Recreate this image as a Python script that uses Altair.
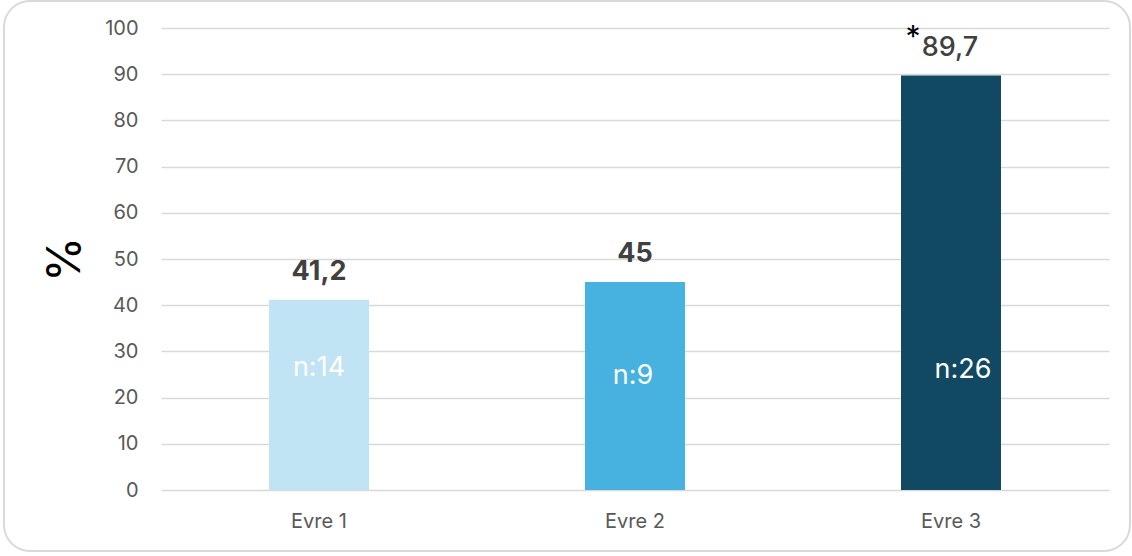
import altair as alt
import pandas as pd

# Stage results (%) with group sizes
stages = ["Evre 1", "Evre 2", "Evre 3"]
percent = [41.2, 45, 89.7]
n_counts = [14, 9, 26]
bar_colors = ["#C1E4F5", "#47B1E0", "#114862"]
y_ticks = list(range(0, 101, 10))

FONT = "Inter"
TEXT_GRAY = "#595959"

df = pd.DataFrame({
    "stage": stages,
    "pct": percent,
    "label": [f"{v:g}".replace(".", ",") for v in percent],
    "n": [f"n:{c}" for c in n_counts],
    "color": bar_colors,
})

x_enc = alt.X(
    "stage:N",
    sort=stages,
    scale=alt.Scale(paddingInner=0, paddingOuter=0),
    axis=alt.Axis(
        title=None, labelAngle=0, labelFontSize=20, labelColor=TEXT_GRAY,
        labelFont=FONT, labelPadding=21, ticks=False, domain=False, grid=False,
    ),
)
y_enc = alt.Y(
    "pct:Q",
    scale=alt.Scale(domain=[0, 100], nice=False),
    axis=alt.Axis(
        title="%", titleFontSize=46, titleColor="#000000", titleFont=FONT,
        titleFontWeight="normal", titlePadding=15,
        values=y_ticks, labelFontSize=20, labelColor=TEXT_GRAY, labelFont=FONT,
        labelPadding=23, ticks=False, domain=False,
        grid=True, gridColor="#D9D9D9", gridWidth=1.5,
    ),
)

base = alt.Chart(df)

# Rounded frame around the whole figure
frame = base.mark_rect(
    fill=None, stroke="#D9D9D9", strokeWidth=2, cornerRadius=26
).encode(
    x=alt.value(-157), x2=alt.value(969), y=alt.value(-27), y2=alt.value(523)
).transform_filter(alt.datum.stage == stages[0])

bars = base.mark_bar(size=100).encode(
    x=x_enc,
    y=y_enc,
    color=alt.Color("color:N", scale=None),
)

# Value labels above the bars
value_bold = base.mark_text(
    baseline="alphabetic", dy=-20, fontSize=27, fontWeight="bold",
    color="#404040", font=FONT,
).encode(x="stage:N", y="pct:Q", text="label:N").transform_filter(
    alt.datum.stage != stages[2]
)
value_third = base.mark_text(
    baseline="alphabetic", dy=-20, dx=-1, fontSize=27, fontWeight=500,
    color="#404040", font=FONT,
).encode(x="stage:N", y="pct:Q", text="label:N").transform_filter(
    alt.datum.stage == stages[2]
)
asterisk = base.mark_text(
    baseline="alphabetic", dy=-29, dx=-38, fontSize=30, color="#000000", font=FONT,
    text="*",
).encode(x="stage:N", y="pct:Q").transform_filter(alt.datum.stage == stages[2])

# Group sizes inside the bars
n_offsets = {stages[0]: (0, -2), stages[1]: (-2, 6), stages[2]: (12, 0)}
n_layers = []
for s in stages:
    dx, dy = n_offsets[s]
    n_layers.append(
        base.mark_text(
            baseline="middle", fontSize=27, color="#FFFFFF", font=FONT, dx=dx, dy=dy,
        ).encode(x="stage:N", y=alt.datum(26), text="n:N").transform_filter(
            alt.datum.stage == s
        )
    )

chart = alt.layer(frame, bars, value_bold, value_third, asterisk, *n_layers).properties(
    width=948,
    height=462,
    background="#FFFFFF",
    autosize=alt.AutoSizeParams(type="none"),
    padding={"left": 161, "top": 28, "right": 23, "bottom": 66},
).configure_view(stroke=None)

chart.save("out.html", embed_options={"renderer": "svg", "actions": False})
